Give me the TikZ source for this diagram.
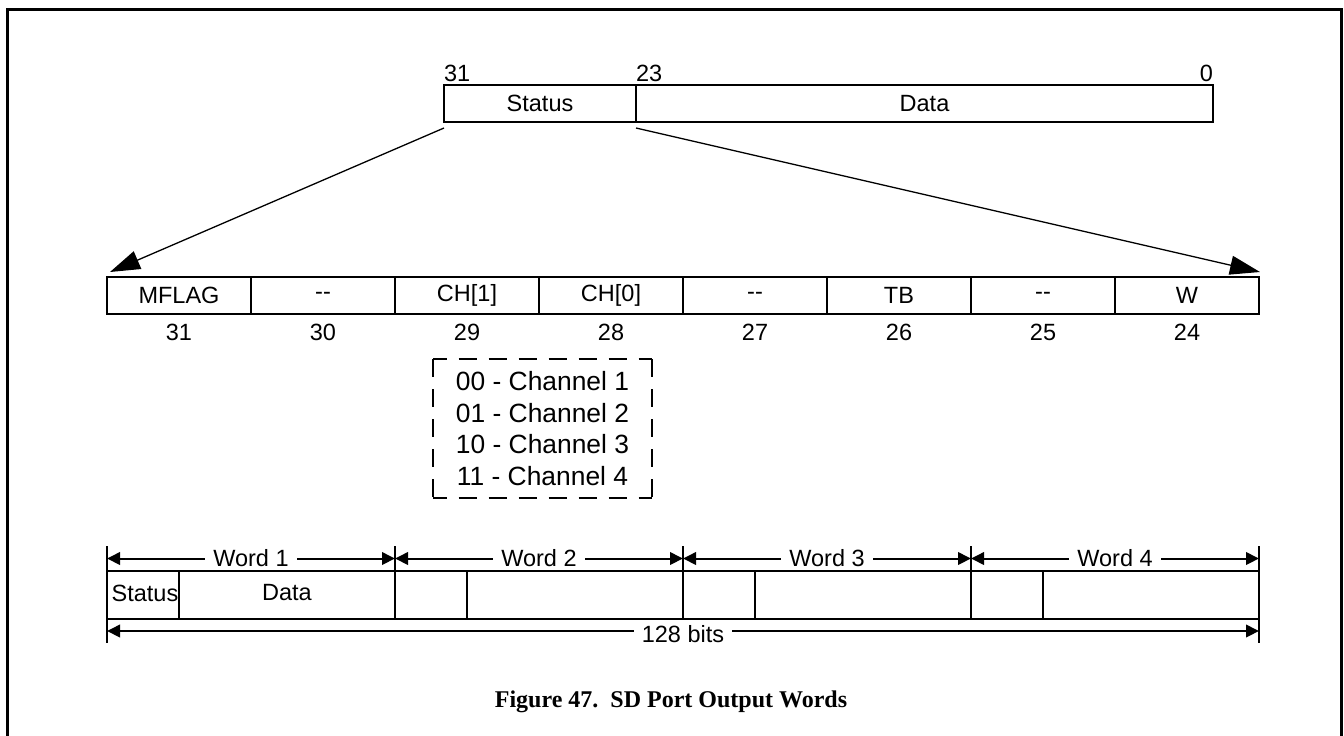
\documentclass[tikz,border=0pt]{standalone}
\usepackage{fontspec}
\setmainfont{Liberation Sans}
\newfontfamily\capfont{Liberation Serif}
\usetikzlibrary{arrows.meta}
\begin{document}
\begin{tikzpicture}[x=1pt,y=-1pt,
  lbl/.style={font=\fontsize{23.5}{28}\selectfont, inner sep=0pt, outer sep=0pt},
  cell/.style={lbl, draw, line width=2pt, minimum height=37pt},
  wcell/.style={lbl, draw, line width=2pt, minimum height=48pt},
  bigarrow/.style={line width=1.3pt, -{Triangle[length=30pt,width=19pt]}},
  dimarrow/.style={line width=2pt, {Triangle[length=13pt,width=12.5pt]}-{Triangle[length=13pt,width=12.5pt]}},
  tick/.style={line width=2pt},
  dimlabel/.style={lbl, fill=white, inner xsep=8pt, inner ysep=1pt},
  chanbox/.style={lbl, minimum width=219pt, minimum height=139pt, align=center, font=\fontsize{26.4}{31.7}\selectfont},
  dashside/.style={line width=2pt, dash pattern=on 18pt off 12pt}
]
\useasboundingbox (0,0) rectangle (1344,736);
% frame
\draw[line width=3pt] (7,736) -- (7,9) -- (1341,9) -- (1341,736);

% top register
\node[cell, minimum width=192pt] (ts) at (540,103.5) {Status};
\node[cell, minimum width=577pt] (td) at (924.5,103.5) {Data};
\node[lbl, anchor=base west] (l31) at (444,81) {31};
\node[lbl, anchor=base west] (l23) at (636,81) {23};
\node[lbl, anchor=base east] (l0) at (1213,81) {0};

% status bits row
\foreach \i/\t/\n in {0/MFLAG/31,1/-{}-/30,2/CH[1]/29,3/CH[0]/28,4/-{}-/27,5/TB/26,6/-{}-/25,7/W/24}{
  \node[cell, minimum width=144pt] (b\i) at (179+144*\i,295.5) {\t};
  \node[lbl] (n\i) at (179+144*\i,332) {\n};
}

% expansion arrows
\draw[bigarrow] ([yshift=-6pt]ts.south west) -- ([xshift=3pt,yshift=5pt]b0.north west);
\draw[bigarrow] ([yshift=-6pt]ts.south east) -- ([xshift=1pt,yshift=5pt]b7.north east);

% channel legend
\node[chanbox] (chan) at (542.5,428.5) {00 - Channel 1\\01 - Channel 2\\10 - Channel 3\\11 - Channel 4};
\draw[dashside, dash phase=4.5pt] (chan.north west) -- (chan.north east);
\draw[dashside, dash phase=4.5pt] (chan.south west) -- (chan.south east);
\draw[dashside, dash phase=0pt] (chan.north west) -- (chan.south west);
\draw[dashside, dash phase=0pt] (chan.north east) -- (chan.south east);

% words row
\foreach \w in {0,1,2,3}{
  \node[wcell, minimum width=72pt] (ws\w) at (143+288*\w,595) {};
  \node[wcell, minimum width=216pt] (wd\w) at (287+288*\w,595) {};
}
\node[lbl] (wst) at (145,593) {Status};
\node[lbl] (wdt) at (287,593) {Data};

% ticks and dimension arrows
\foreach \k in {0,...,4}{
  \coordinate (tt\k) at (107+288*\k,546);
  \coordinate (ta\k) at (107+288*\k,558.5);
}
\coordinate (tb0) at (107,643);
\coordinate (tb4) at (1259,643);
\coordinate (la) at (107,631);
\coordinate (lb) at (1259,631);
\draw[tick] (tt0) -- (tb0);
\draw[tick] (tt4) -- (tb4);
\foreach \k in {1,2,3}{
  \draw[tick] (tt\k) -- (ws\k.south west);
}
\foreach \k/\m in {0/1,1/2,2/3,3/4}{
  \draw[dimarrow] (ta\k) -- node[dimlabel] {Word \m} (ta\m);
}
\draw[dimarrow] (la) -- node[dimlabel, yshift=-3pt] {128 bits} (lb);

% caption
\node[inner sep=0pt, font=\capfont\bfseries\fontsize{24}{28}\selectfont] (cap) at (671,702) {Figure 47.\ \ SD Port Output Words};
\end{tikzpicture}
\end{document}
